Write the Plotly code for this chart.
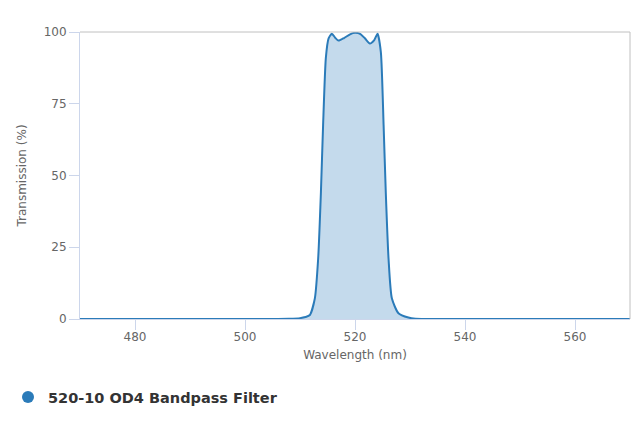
import plotly.graph_objects as go

# wavelength (nm) and transmission (%)
wavelength = [470, 480, 490, 500, 505, 508, 510, 511, 511.8, 512.7, 513.3, 513.8, 514.2,
              514.7, 515.2, 515.8, 516.4, 517.0, 518.0, 519.1, 520.0, 521.0, 521.8, 522.7,
              523.5, 524.1, 524.7, 525.2, 525.6, 526.1, 526.7, 527.9, 529.7, 531, 535,
              540, 550, 560, 570]
transmission = [0, 0, 0, 0, 0.02, 0.1, 0.3, 0.7, 1.4, 7.2, 21, 44, 67.6,
                91, 97.8, 99.4, 98.0, 97.0, 97.9, 99.2, 99.7, 99.3, 97.8, 96.0,
                97.2, 99.4, 93, 67.6, 44, 21, 7.2, 2.0, 0.5, 0.1, 0,
                0, 0, 0, 0]
series_name = "520-10 OD4 Bandpass Filter"
x_ticks = [480, 500, 520, 540, 560]
y_ticks = [0, 25, 50, 75, 100]

line_col = "#2b7bb9"

fig = go.Figure()
fig.add_trace(go.Scatter(x=wavelength, y=transmission, mode="lines",
                         line=dict(color=line_col, width=2, shape="spline", smoothing=0.6),
                         fill="tozeroy", fillcolor="rgba(43,123,185,0.28)",
                         showlegend=False, hoverinfo="x+y"))
# legend entry with round marker
fig.add_trace(go.Scatter(x=[None], y=[None], mode="markers", name=series_name,
                         marker=dict(color=line_col, size=16, symbol="circle")))

axis_font = dict(family="DejaVu Sans, sans-serif", size=12, color="#666666")
fig.update_layout(
    width=640, height=427,
    # page body has an 8px margin, so the plot box is moved up/left by 8px
    margin=dict(l=72, r=18, t=24, b=116),
    paper_bgcolor="white", plot_bgcolor="white",
    font=axis_font,
    xaxis=dict(range=[470, 570], tickvals=x_ticks, showgrid=False, zeroline=False,
               showline=True, linecolor="#ccd6eb", linewidth=1,
               ticks="outside", ticklen=10, tickcolor="#ccd6eb", ticklabelstandoff=-3,
               title=dict(text="Wavelength (nm)", font=axis_font, standoff=7)),
    yaxis=dict(range=[0, 100], tickvals=y_ticks, showgrid=False, zeroline=False,
               showline=True, linecolor="#ccd6eb", linewidth=1,
               ticks="outside", ticklen=10, tickcolor="#ccd6eb",
               title=dict(text="Transmission (%)", font=axis_font, standoff=14)),
    legend=dict(orientation="h", xref="container", yref="container",
                x=0, xanchor="left", y=0.089, yanchor="middle",
                font=dict(family="DejaVu Sans, sans-serif", size=14.5, color="#333333", weight="bold"),
                itemsizing="constant"),
    shapes=[
        dict(type="line", xref="paper", yref="paper", x0=0, x1=1, y0=1, y1=1,
             line=dict(color="#c0c0c0", width=1)),
        dict(type="line", xref="paper", yref="paper", x0=1, x1=1, y0=0, y1=1,
             line=dict(color="#c0c0c0", width=1)),
    ],
)

fig.write_html("out.html")
